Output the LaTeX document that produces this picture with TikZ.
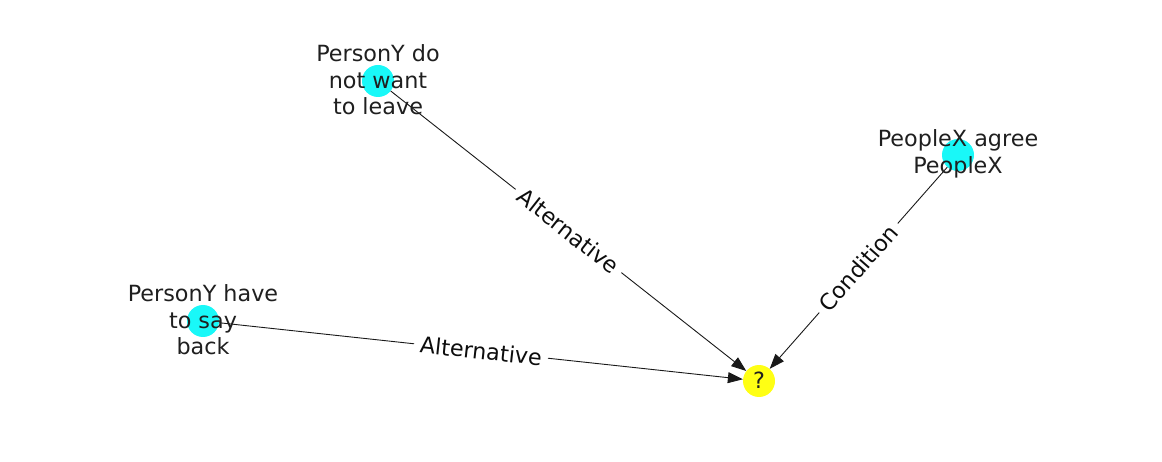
\documentclass[tikz,border=0pt]{standalone}
\usepackage{fontspec}
\setmainfont{DejaVu Sans}
\usetikzlibrary{arrows.meta}
\definecolor{cy}{RGB}{25,248,248}
\definecolor{ye}{RGB}{255,255,20}
\begin{document}
\begin{tikzpicture}[x=1pt,y=-1pt,
  dot/.style={circle,minimum size=32pt,inner sep=0pt,draw=none},
  lbl/.style={align=center,font=\fontsize{22.3}{26.5}\selectfont,text=black!88,inner sep=0pt},
  elbl/.style={fill=white,font=\fontsize{22.3}{24}\selectfont,inner xsep=6pt,inner ysep=3pt,sloped,text=black!95},
  edge/.style={draw=black!90,line width=0.9pt,-{Triangle[length=15pt,width=11pt]}}]
\useasboundingbox (0,0) rectangle (1162,462);
\node[dot,fill=cy] (a) at (378,81) {};
\node[dot,fill=cy] (b) at (958,155) {};
\node[dot,fill=cy] (c) at (203,321) {};
\node[dot,fill=ye] (q) at (759,381) {};
\draw[edge] (a) -- node[elbl] (ea) {Alternative} (q);
\draw[edge] (b) -- node[elbl] (eb) {Condition} (q);
\draw[edge] (c) -- node[elbl] (ec) {Alternative} (q);
\node[lbl] (ta) at (378,80) {PersonY do\\not want\\to leave};
\node[lbl] (tb) at (958,154) {PeopleX agree\\PeopleX};
\node[lbl] (tc) at (203,320) {PersonY have\\to say\\back};
\node[lbl] (tq) at (759,380) {?};
\end{tikzpicture}
\end{document}
